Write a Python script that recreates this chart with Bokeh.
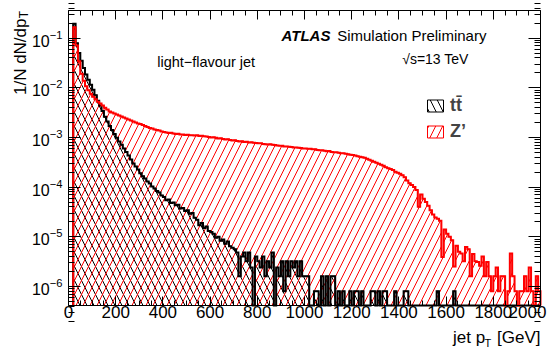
import numpy as np
from bokeh.plotting import figure
from bokeh.models import (Range1d, LinearAxis, LogAxis, FixedTicker, Label, Legend,
                          LegendItem, CustomJSTickFormatter)
from bokeh.embed import file_html
from bokeh.resources import INLINE

FONT = "Liberation Sans"

# ---------------- data ----------------
bin_low = list(range(20, 2000, 10))      # lower bin edges in GeV
bin_width = 10

ttbar = [
    1.95e-1, 7.9e-2, 5.0e-2, 3.5e-2, 2.5e-2, 1.86e-2, 1.45e-2, 1.15e-2, 9.1e-3, 7.1e-3,
    5.5e-3, 4.4e-3, 3.4e-3, 2.6e-3, 2.1e-3, 1.7e-3, 1.41e-3, 1.17e-3, 9.8e-4, 8.3e-4,
    7.1e-4, 6.0e-4, 5.1e-4, 4.3e-4, 3.6e-4, 3.0e-4, 2.6e-4, 2.25e-4, 1.9e-4, 1.66e-4,
    1.48e-4, 1.30e-4, 1.18e-4, 1.03e-4, 9.4e-5, 8.3e-5, 7.8e-5, 6.8e-5, 6.3e-5, 5.4e-5,
    5.6e-5, 4.8e-5, 4.9e-5, 4.3e-5, 4.4e-5, 3.7e-5, 3.8e-5, 3.3e-5, 3.4e-5, 2.9e-5,
    3.0e-5, 2.4e-5, 2.2e-5, 1.7e-5, 1.9e-5, 1.5e-5, 1.6e-5, 1.3e-5, 1.25e-5, 1.15e-5,
    9.5e-6, 1.0e-5, 8.3e-6, 8.8e-6, 7.2e-6, 8.0e-6, 6.4e-6, 6.0e-6, 5.6e-6, 4.8e-6,
    1.6e-6, 4.0e-6, 4.8e-6, 3.2e-6, 4.8e-6, 2.4e-6, 0, 4.0e-6, 3.2e-6, 2.4e-6,
    4.0e-6, 1.6e-6, 3.2e-6, 2.4e-6, 4.8e-6, 0, 2.4e-6, 1.6e-6, 3.2e-6, 8e-7,
    3.2e-6, 1.6e-6, 3.2e-6, 2.4e-6, 3.2e-6, 1.6e-6, 3.2e-6, 1.6e-6, 1.6e-6, 1.6e-6,
    0, 0, 8e-7, 8e-7, 0, 1.6e-6, 0, 1.6e-6, 0, 1.6e-6,
    1.6e-6, 0, 8e-7, 0, 8e-7, 0, 0, 8e-7, 0, 8e-7,
    8e-7, 0, 8e-7, 0, 0, 0, 8e-7, 8e-7, 0, 8e-7,
    0, 8e-7, 8e-7, 0, 0, 0, 8e-7, 0, 0, 0,
    8e-7, 8e-7, 0, 0, 0, 0, 0, 0, 0, 0,
    0, 0, 0, 0, 8e-7, 0, 0, 0, 0, 0,
    0, 8e-7, 0, 0, 0, 0, 0, 0, 0, 0,
    0, 0, 0, 0, 0, 0, 0, 0, 0, 0,
    0, 0, 0, 0, 0, 0, 0, 0, 0, 0,
    0, 0, 0, 0, 0, 0, 0, 0,
]

zprime = [
    1.66e-1, 7.1e-2, 3.4e-2, 1.91e-2, 1.38e-2, 1.07e-2, 8.9e-3, 7.6e-3, 6.6e-3, 5.9e-3,
    5.25e-3, 4.8e-3, 4.37e-3, 3.98e-3, 3.63e-3, 3.31e-3, 3.16e-3, 3.02e-3, 2.88e-3, 2.75e-3,
    2.63e-3, 2.51e-3, 2.40e-3, 2.29e-3, 2.19e-3, 2.09e-3, 2.0e-3, 1.9e-3, 1.86e-3, 1.78e-3,
    1.70e-3, 1.62e-3, 1.55e-3, 1.51e-3, 1.45e-3, 1.41e-3, 1.38e-3, 1.32e-3, 1.29e-3, 1.26e-3,
    1.23e-3, 1.24e-3, 1.20e-3, 1.17e-3, 1.18e-3, 1.15e-3, 1.14e-3, 1.12e-3, 1.13e-3, 1.11e-3,
    1.10e-3, 1.09e-3, 1.10e-3, 1.07e-3, 1.08e-3, 1.05e-3, 1.04e-3, 1.02e-3, 1.00e-3, 1.01e-3,
    9.8e-4, 9.5e-4, 9.6e-4, 9.3e-4, 9.1e-4, 9.2e-4, 8.9e-4, 8.7e-4, 8.8e-4, 8.5e-4,
    8.3e-4, 8.4e-4, 8.1e-4, 8.2e-4, 7.9e-4, 8.0e-4, 7.8e-4, 7.7e-4, 7.6e-4, 7.6e-4,
    7.4e-4, 7.3e-4, 7.2e-4, 7.3e-4, 7.1e-4, 7.0e-4, 6.9e-4, 6.8e-4, 6.8e-4, 6.6e-4,
    6.6e-4, 6.5e-4, 6.4e-4, 6.3e-4, 6.3e-4, 6.2e-4, 6.1e-4, 6.0e-4, 6.0e-4, 5.9e-4,
    5.9e-4, 5.75e-4, 5.8e-4, 5.6e-4, 5.5e-4, 5.5e-4, 5.4e-4, 5.25e-4, 5.3e-4, 5.1e-4,
    5.0e-4, 5.0e-4, 4.9e-4, 4.8e-4, 4.8e-4, 4.7e-4, 4.6e-4, 4.5e-4, 4.4e-4, 4.3e-4,
    4.2e-4, 4.1e-4, 4.0e-4, 3.9e-4, 3.7e-4, 3.55e-4, 3.4e-4, 3.24e-4, 3.1e-4, 2.95e-4,
    2.8e-4, 2.7e-4, 2.5e-4, 2.4e-4, 2.3e-4, 2.2e-4, 2.04e-4, 1.95e-4, 1.86e-4, 1.74e-4,
    1.58e-4, 1.35e-4, 1.2e-4, 1.1e-4, 1.0e-4, 8.7e-5, 4.0e-5, 7.1e-5, 5.8e-5, 5.0e-5,
    4.2e-5, 3.4e-5, 2.8e-5, 2.45e-5, 2.3e-5, 2.1e-5, 3.9e-6, 1.4e-5, 1.15e-5, 1.0e-5,
    8.5e-6, 2.5e-6, 6.6e-6, 5.0e-6, 4.6e-6, 3.2e-6, 6.2e-6, 5.6e-6, 1.6e-6, 4.5e-6,
    3.2e-6, 3.1e-6, 2.6e-6, 4.0e-6, 1.6e-6, 3.1e-6, 1.6e-6, 8e-7, 1.6e-6, 2.4e-6,
    8e-7, 1.6e-6, 1.6e-6, 0, 8e-7, 4.6e-6, 1.6e-6, 8e-7, 0, 8e-7,
    8e-7, 1.6e-6, 8e-7, 2.4e-6, 8e-7, 0, 1.6e-6, 8e-7,
]

x_ticks = list(range(0, 2001, 200))
x_minor = list(range(0, 2001, 50))
y_ticks = [1e-6, 1e-5, 1e-4, 1e-3, 1e-2, 1e-1]
y_minor = [m * 10.0 ** k for k in range(-7, 0) for m in range(2, 10)]

legend_labels = ["tt\u0304", "Z\u2019"]

# ---------------- geometry (page pixels of the data box) ----------------
W, H = 559, 347
BOX_L, BOX_R, BOX_T, BOX_B = 68, 540, 10, 305
X_MIN, X_MAX = 0, 2000
LOGY_MIN, LOGY_MAX = -6.385, -0.444
YMIN, YMAX = 10 ** LOGY_MIN, 10 ** LOGY_MAX
LAST_LABEL_SHIFT_PX = 13      # the last x label is pulled left to end at the frame edge

gev_per_px = (X_MAX - X_MIN) / (BOX_R - BOX_L)
dec_per_px = (LOGY_MAX - LOGY_MIN) / (BOX_B - BOX_T)
x_range = Range1d(X_MIN - BOX_L * gev_per_px, X_MAX + (W - BOX_R) * gev_per_px)
y_range = Range1d(10 ** (LOGY_MIN - (H - BOX_B) * dec_per_px),
                  10 ** (LOGY_MAX + BOX_T * dec_per_px))


def step_path(vals):
    v = np.asarray(vals, float)
    v = np.where(v > 0, v, YMIN)
    lo = np.asarray(bin_low, float)
    hi = lo + bin_width
    xs = np.column_stack([lo, hi]).ravel()
    ys = np.repeat(v, 2)
    xs = np.concatenate([[lo[0]], xs, [hi[-1]]])
    ys = np.concatenate([[YMIN], ys, [YMIN]])
    return xs, ys


p = figure(width=W, height=H, x_range=x_range, y_range=y_range, y_axis_type="log",
           output_backend="svg", toolbar_location=None,
           min_border_left=0, min_border_right=0, min_border_top=0, min_border_bottom=0)
p.xgrid.visible = False
p.ygrid.visible = False
p.outline_line_color = None
p.background_fill_color = "white"
p.border_fill_color = "white"

blank = CustomJSTickFormatter(code="return ''")


def style_x_labels(ax):
    ax.major_label_text_font = FONT
    ax.major_label_text_font_size = "17px"
    ax.major_label_text_color = "black"
    ax.major_label_standoff = 0


xa = p.xaxis[0]
xa.fixed_location = YMIN
xa.bounds = (X_MIN, X_MAX)
xa.ticker = FixedTicker(ticks=x_ticks, minor_ticks=x_minor)
xa.major_tick_in, xa.major_tick_out = 9, 0
xa.minor_tick_in, xa.minor_tick_out = 5, 0
style_x_labels(xa)
xa.major_label_overrides = {X_MAX: ""}
xa.axis_line_color = "black"

# label of the last tick, placed like in the reference (shifted inside the frame edge)
last_pos = round(X_MAX - LAST_LABEL_SHIFT_PX * gev_per_px)
xlast = LinearAxis(ticker=FixedTicker(ticks=[last_pos], minor_ticks=[]), fixed_location=YMIN,
                   major_tick_in=0, major_tick_out=0, minor_tick_in=0, minor_tick_out=0,
                   axis_line_color=None, major_label_overrides={last_pos: str(x_ticks[-1])})
style_x_labels(xlast)
p.add_layout(xlast, "below")

top = LinearAxis(ticker=FixedTicker(ticks=x_ticks, minor_ticks=x_minor), formatter=blank,
                 fixed_location=YMAX, bounds=(X_MIN, X_MAX),
                 major_tick_in=9, major_tick_out=0, minor_tick_in=5, minor_tick_out=0,
                 major_label_text_font_size="0px", major_label_standoff=0)
p.add_layout(top, "above")

ya = p.yaxis[0]
ya.fixed_location = X_MIN
ya.bounds = (YMIN, YMAX)
ya.ticker = FixedTicker(ticks=y_ticks, minor_ticks=y_minor)
ya.major_tick_in, ya.major_tick_out = 12, 0
ya.minor_tick_in, ya.minor_tick_out = 6, 0
ya.major_label_text_font = FONT
ya.major_label_text_font_size = "16px"
ya.major_label_text_color = "black"
ya.major_label_standoff = 6
ya.axis_line_color = "black"

right = LogAxis(ticker=FixedTicker(ticks=y_ticks, minor_ticks=y_minor), formatter=blank,
                fixed_location=X_MAX, bounds=(YMIN, YMAX),
                major_tick_in=12, major_tick_out=0, minor_tick_in=6, minor_tick_out=0,
                major_label_text_font_size="0px", major_label_standoff=0)
p.add_layout(right, "right")

# ---------------- histograms ----------------
xs_t, ys_t = step_path(ttbar)
xs_z, ys_z = step_path(zprime)

r_t = p.patch(xs_t, ys_t, fill_color=None, line_color="black", line_width=1,
              hatch_pattern="left_diagonal_line", hatch_color="black",
              hatch_scale=14, hatch_weight=1)
r_z = p.patch(xs_z, ys_z, fill_color=None, line_color="red", line_width=1,
              hatch_pattern="right_diagonal_line", hatch_color="red",
              hatch_scale=14, hatch_weight=1)
p.line(xs_t, ys_t, line_color="black", line_width=2, line_join="miter")
p.line(xs_z, ys_z, line_color="red", line_width=2, line_join="miter")

leg = Legend(items=[LegendItem(label=legend_labels[0], renderers=[r_t]),
                    LegendItem(label=legend_labels[1], renderers=[r_z])],
             location=(425, H - 141.7), glyph_width=20, glyph_height=15,
             label_standoff=5, spacing=5, padding=0, margin=0,
             label_text_font=FONT, label_text_font_style="bold",
             label_text_font_size="18px", label_height=20,
             border_line_color=None, background_fill_alpha=0)
p.add_layout(leg)


# ---------------- texts (page pixel positions, y measured from the top) ----------------
def lab(text, X, Y, size, style="normal", align="left", angle=0.0):
    p.add_layout(Label(x=X, y=H - Y, x_units="screen", y_units="screen", text=text,
                       text_font=FONT, text_font_size=f"{size}px", text_font_style=style,
                       text_align=align, text_baseline="alphabetic", angle=angle,
                       text_color="black"))


lab("ATLAS", 281, 35, 15, "bold italic")
lab("Simulation Preliminary", 336.7, 35, 15)
lab("\u221as=13 TeV", 401.7, 58.3, 14)
lab("light\u2212flavour jet", 156.7, 61.7, 14.5)

lab("1/N dN/dp", 20, 18, 17, align="right", angle=np.pi / 2)
lab("T", 23.5, 10.5, 12, align="right", angle=np.pi / 2)

lab("jet p", 452.5, 337, 17)
lab("T", 484, 342, 11)
lab("[GeV]", 540, 337, 17, align="right")

open("out.html", "w").write(file_html(p, INLINE))
